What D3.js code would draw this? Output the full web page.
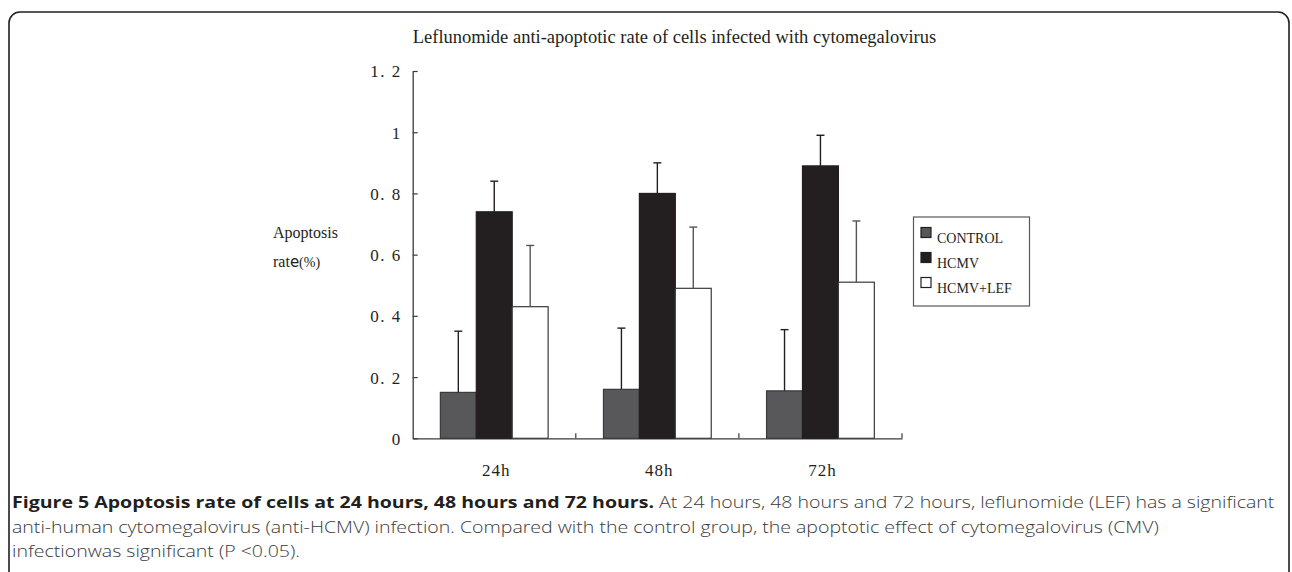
<!DOCTYPE html>
<html>
<head>
<meta charset="utf-8">
<script src="https://cdn.jsdelivr.net/npm/d3@7"></script>
<style>
  html, body { margin: 0; padding: 0; background: #fff; }
  svg { display: block; }
</style>
</head>
<body>
<svg id="chart" width="1292" height="572"></svg>
<script>
/* data */
const categories = ['24h', '48h', '72h'];
const seriesNames = ['CONTROL', 'HCMV', 'HCMV+LEF'];
const controlMean = [0.15, 0.16, 0.155];
const controlSd = [0.20, 0.20, 0.20];
const hcmvMean = [0.74, 0.80, 0.89];
const hcmvSd = [0.10, 0.10, 0.10];
const lefMean = [0.43, 0.49, 0.51];
const lefSd = [0.20, 0.20, 0.20];
const yTicks = [0, 0.2, 0.4, 0.6, 0.8, 1.0, 1.2];
const yTickLabels = ['0', '0. 2', '0. 4', '0. 6', '0. 8', '1', '1. 2'];

const chartTitle = 'Leflunomide anti-apoptotic rate of cells infected with cytomegalovirus';
const captionBold = 'Figure 5 Apoptosis rate of cells at 24 hours, 48 hours and 72 hours.';
const captionLines = [
  ' At 24 hours, 48 hours and 72 hours, leflunomide (LEF) has a significant',
  'anti-human cytomegalovirus (anti-HCMV) infection. Compared with the control group, the apoptotic effect of cytomegalovirus (CMV)',
  'infectionwas significant (P <0.05).'
];

const seriesData = [
  { name: seriesNames[0], mean: controlMean, sd: controlSd, fill: '#58585a', stroke: '#3a3a3c', err: '#231f20' },
  { name: seriesNames[1], mean: hcmvMean, sd: hcmvSd, fill: '#231f20', stroke: '#231f20', err: '#231f20' },
  { name: seriesNames[2], mean: lefMean, sd: lefSd, fill: '#ffffff', stroke: '#3a3a3c', err: '#555555' }
];

const svg = d3.select('#chart');
const serif = '"Liberation Serif", "Times New Roman", serif';

/* frame */
svg.append('rect')
  .attr('x', 9).attr('y', 12)
  .attr('width', 1280).attr('height', 620)
  .attr('rx', 11).attr('ry', 11)
  .attr('fill', 'none')
  .attr('stroke', '#231f20')
  .attr('stroke-width', 1.6);

/* title */
svg.append('text')
  .attr('x', 674.5).attr('y', 43)
  .attr('text-anchor', 'middle')
  .style('font-family', serif)
  .style('font-size', '18.5px')
  .attr('fill', '#231f20')
  .text(chartTitle);

/* scales */
const y = d3.scaleLinear().domain([0, 1.2]).range([438.3, 71]);
const x0 = d3.scaleBand().domain(categories).range([412.7, 902]).paddingInner(0).paddingOuter(0);
const x1 = d3.scaleBand().domain(seriesNames).range([0, x0.bandwidth()]).paddingInner(0).paddingOuter(0.77);

/* y axis */
const yAxis = d3.axisRight(y)
  .tickValues(yTicks)
  .tickFormat((d, i) => yTickLabels[i])
  .tickSize(5)
  .tickSizeOuter(0);

const gy = svg.append('g')
  .attr('transform', 'translate(' + x0.range()[0] + ',0)')
  .call(yAxis);
gy.select('.domain').attr('stroke', '#3a3a3c').attr('stroke-width', 1.3);
gy.selectAll('.tick line').attr('stroke', '#3a3a3c').attr('stroke-width', 1.2);
gy.selectAll('.tick text')
  .attr('x', -11)
  .attr('text-anchor', 'end')
  .attr('dy', '0.35em')
  .style('font-family', serif)
  .style('font-size', '17px')
  .style('letter-spacing', '1.5px')
  .attr('fill', '#231f20');

/* x axis */
const xAxis = d3.axisTop(x0).tickSize(0).tickSizeOuter(0);
const gx = svg.append('g')
  .attr('transform', 'translate(0,' + y(0) + ')')
  .call(xAxis);
gx.select('.domain').attr('stroke', '#3a3a3c').attr('stroke-width', 1.3);
gx.selectAll('.tick text')
  .attr('y', 32)
  .attr('dx', 2)
  .attr('dy', '0.35em')
  .style('font-family', serif)
  .style('font-size', '17px')
  .style('letter-spacing', '1px')
  .attr('fill', '#231f20');
// small tick marks on the category boundaries
svg.append('g')
  .selectAll('line')
  .data(categories)
  .enter()
  .append('line')
  .attr('x1', d => x0(d) + x0.bandwidth())
  .attr('x2', d => x0(d) + x0.bandwidth())
  .attr('y1', y(0))
  .attr('y2', y(0) - 5)
  .attr('stroke', '#3a3a3c')
  .attr('stroke-width', 1.2);

/* y axis title */
const yTitle = svg.append('text')
  .style('font-family', serif)
  .style('font-size', '16px')
  .attr('fill', '#231f20');
yTitle.append('tspan').attr('x', 273).attr('y', 238).text('Apoptosis');
const l2 = yTitle.append('tspan').attr('x', 273).attr('y', 267);
l2.append('tspan').text('rat');
l2.append('tspan').style('font-family', '"DejaVu Sans", sans-serif').style('font-size', '15px').text('e');
l2.append('tspan').style('font-size', '14px').text('(%)');

/* bars */
const groups = svg.append('g')
  .selectAll('g')
  .data(seriesData)
  .enter()
  .append('g');

groups.selectAll('rect')
  .data(s => categories.map((c, i) => ({ s: s, c: c, v: s.mean[i], sd: s.sd[i] })))
  .enter()
  .append('rect')
  .attr('x', d => x0(d.c) + x1(d.s.name))
  .attr('y', d => y(d.v))
  .attr('width', x1.bandwidth())
  .attr('height', d => y(0) - y(d.v))
  .attr('fill', d => d.s.fill)
  .attr('stroke', d => d.s.stroke)
  .attr('stroke-width', 1.2);

/* error bars */
const errs = groups.selectAll('g.err')
  .data(s => categories.map((c, i) => ({ s: s, c: c, v: s.mean[i], sd: s.sd[i] })))
  .enter()
  .append('g')
  .attr('class', 'err');

errs.append('line')
  .attr('x1', d => x0(d.c) + x1(d.s.name) + x1.bandwidth() / 2)
  .attr('x2', d => x0(d.c) + x1(d.s.name) + x1.bandwidth() / 2)
  .attr('y1', d => y(d.v))
  .attr('y2', d => y(d.v + d.sd))
  .attr('stroke', d => d.s.err)
  .attr('stroke-width', 1.4);

errs.append('line')
  .attr('x1', d => x0(d.c) + x1(d.s.name) + x1.bandwidth() / 2 - 4)
  .attr('x2', d => x0(d.c) + x1(d.s.name) + x1.bandwidth() / 2 + 4)
  .attr('y1', d => y(d.v + d.sd))
  .attr('y2', d => y(d.v + d.sd))
  .attr('stroke', d => d.s.err)
  .attr('stroke-width', 1.4);

/* legend */
const legend = svg.append('g').attr('transform', 'translate(913.5,217)');
legend.append('rect')
  .attr('width', 116).attr('height', 89)
  .attr('fill', '#fff')
  .attr('stroke', '#58585a')
  .attr('stroke-width', 1.2);

const items = legend.selectAll('g.item')
  .data(seriesData)
  .enter()
  .append('g')
  .attr('class', 'item')
  .attr('transform', (d, i) => 'translate(7.5,' + (10.5 + i * 25) + ')');

items.append('rect')
  .attr('width', 10).attr('height', 10)
  .attr('fill', d => d.fill)
  .attr('stroke', '#231f20')
  .attr('stroke-width', 1.2);

items.append('text')
  .attr('x', 16).attr('y', 15)
  .style('font-family', serif)
  .style('font-size', '14px')
  .attr('fill', '#231f20')
  .text(d => d.name);

/* caption */
const cap = svg.append('g');
const capFont = '"Open Sans", "Noto Sans", sans-serif';
const first = cap.append('text')
  .attr('x', 0).attr('y', 508)
  .style('font-family', capFont)
  .style('font-size', '16px')
  .attr('fill', '#231f20');
first.append('tspan').style('font-weight', 'bold').text(captionBold);
first.append('tspan').style('font-weight', 300).attr('fill', '#3a3a3c').text(captionLines[0]);
captionLines.slice(1).forEach((line, i) => {
  cap.append('text')
    .attr('x', 0).attr('y', 533 + i * 24.5)
    .style('font-family', capFont)
    .style('font-size', '16px')
    .style('font-weight', 300)
    .attr('fill', '#3a3a3c')
    .text(line);
});
// squeeze horizontally to the condensed width of the original caption face
const w = first.node().getComputedTextLength();
const sx = 1263 / w;
cap.attr('transform', 'translate(12,0) scale(' + sx + ',1)');
</script>
</body>
</html>
